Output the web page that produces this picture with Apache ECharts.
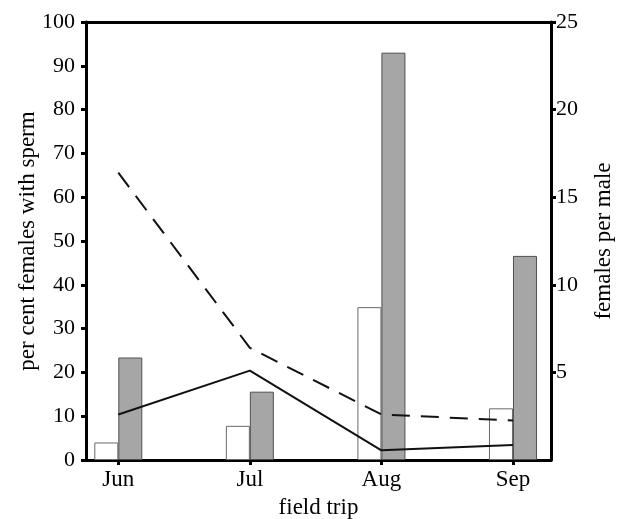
<!DOCTYPE html>
<html>
<head>
<meta charset="utf-8">
<script src="https://cdn.jsdelivr.net/npm/echarts@6/dist/echarts.min.js"></script>
<style>html,body{margin:0;padding:0;background:#fff}#c{width:621px;height:519px}</style>
</head>
<body>
<div id="c"></div>
<script>
const categories = ['Jun', 'Jul', 'Aug', 'Sep'];
const positions = [1, 2, 3, 4];
const whiteBars = [4.0, 7.8, 34.9, 11.8];
const grayBars = [23.4, 15.6, 93.0, 46.6];
const solidLine = [2.6, 5.1, 0.55, 0.86];
const dashedLine = [16.4, 6.4, 2.6, 2.25];
const leftTicks = [0, 10, 20, 30, 40, 50, 60, 70, 80, 90, 100];
const rightTicks = [5, 10, 15, 20, 25];

const font = 'Liberation Serif';
const pair = arr => arr.map((v, i) => [positions[i], v]);
const chart = echarts.init(document.getElementById('c'), null, {renderer: 'canvas'});
const axisLineStyle = {color: '#000', width: 3};
chart.setOption({
  animation: false,
  backgroundColor: '#fff',
  grid: {left: 86, right: 70, top: 22, bottom: 59, containLabel: false, outerBoundsMode: 'none'},
  xAxis: [{
    type: 'value', min: 0.7545, max: 4.289, position: 'bottom',
    name: 'field trip', nameLocation: 'middle', nameGap: 36, nameMoveOverlap: false,
    nameTextStyle: {fontFamily: font, fontSize: 23, color: '#000'},
    axisLine: {show: true, onZero: false, lineStyle: axisLineStyle},
    axisTick: {show: true, customValues: positions, length: 5, lineStyle: {color: '#000', width: 3}},
    axisLabel: {customValues: positions, formatter: v => categories[positions.indexOf(v)] || '',
      fontFamily: font, fontSize: 23, color: '#000', margin: 8},
    splitLine: {show: false}
  }, {
    type: 'value', min: 0.7545, max: 4.289, position: 'top',
    axisLine: {show: true, onZero: false, lineStyle: axisLineStyle},
    axisTick: {show: false}, axisLabel: {show: false}, splitLine: {show: false}
  }],
  yAxis: [{
    type: 'value', min: 0, max: 100, interval: 10, position: 'left',
    name: 'per cent females with sperm', nameLocation: 'middle', nameGap: 47, nameRotate: 90,
    nameMoveOverlap: false,
    nameTextStyle: {fontFamily: font, fontSize: 23, color: '#000'},
    axisLine: {show: true, lineStyle: axisLineStyle},
    axisTick: {show: true, length: 5, customValues: leftTicks, lineStyle: {color: '#000', width: 3}},
    axisLabel: {customValues: leftTicks, fontFamily: font, fontSize: 22, color: '#000', margin: 11},
    splitLine: {show: false}
  }, {
    type: 'value', min: 0, max: 25, interval: 5, position: 'right',
    name: 'females per male', nameLocation: 'middle', nameGap: 41, nameRotate: 90,
    nameMoveOverlap: false,
    nameTextStyle: {fontFamily: font, fontSize: 23, color: '#000'},
    axisLine: {show: true, lineStyle: axisLineStyle},
    axisTick: {show: true, length: 5, customValues: rightTicks, lineStyle: {color: '#000', width: 3}},
    axisLabel: {customValues: rightTicks, fontFamily: font, fontSize: 22, color: '#000', margin: 5},
    splitLine: {show: false}
  }],
  series: [{
    type: 'bar', xAxisIndex: 0, yAxisIndex: 0, data: pair(whiteBars),
    barWidth: 24, barGap: '0%',
    itemStyle: {color: '#fff', borderColor: '#6a6a6a', borderWidth: 1}
  }, {
    type: 'bar', xAxisIndex: 0, yAxisIndex: 0, data: pair(grayBars),
    barWidth: 24, barGap: '0%',
    itemStyle: {color: '#a6a6a6', borderColor: '#505050', borderWidth: 1}
  }, {
    type: 'line', xAxisIndex: 0, yAxisIndex: 1, data: pair(solidLine),
    symbol: 'none', z: 5,
    lineStyle: {color: '#111', width: 2, type: 'solid'}
  }, {
    type: 'line', xAxisIndex: 0, yAxisIndex: 1, data: pair(dashedLine),
    symbol: 'none', z: 5,
    lineStyle: {color: '#111', width: 2, type: [18, 11]}
  }]
});
</script>
</body>
</html>
